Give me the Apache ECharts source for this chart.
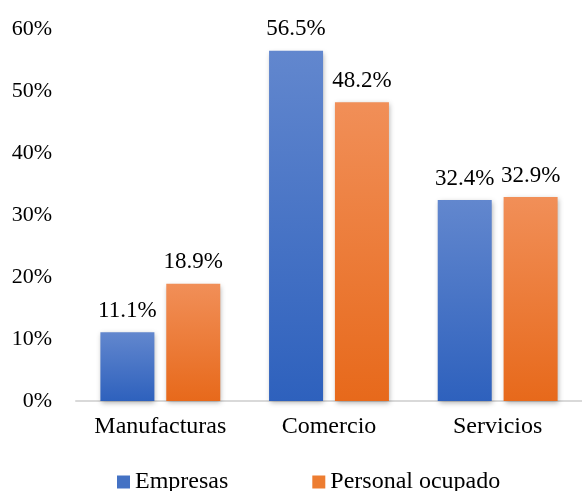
<!DOCTYPE html>
<html><head><meta charset="utf-8">
<script src="https://cdn.jsdelivr.net/npm/echarts@6/dist/echarts.min.js"></script>
<style>html,body{margin:0;padding:0;background:#fff}#c{width:582px;height:491px}</style>
</head><body><div id="c"></div>
<script>
var categories = ['Manufacturas', 'Comercio', 'Servicios'];
var empresas = [11.1, 56.5, 32.4];
var personal = [18.9, 48.2, 32.9];
var yTicks = [0, 10, 20, 30, 40, 50, 60];

var FONT = '"Liberation Serif", "Times New Roman", serif';
function grad(top, bottom) {
  return new echarts.graphic.LinearGradient(0, 0, 0, 1, [{offset: 0, color: top}, {offset: 1, color: bottom}]);
}
var chart = echarts.init(document.getElementById('c'));
chart.setOption({
  animation: false,
  grid: {left: 76, top: 29, width: 510, height: 372, containLabel: false},
  textStyle: {fontFamily: FONT},
  legend: {
    top: 465, left: 112, itemWidth: 13, itemHeight: 13, itemGap: 84,
    textStyle: {fontFamily: FONT, fontSize: 24, color: '#000'},
    data: [
      {name: 'Empresas', icon: 'rect', itemStyle: {color: '#4472C4'}},
      {name: 'Personal ocupado', icon: 'rect', itemStyle: {color: '#ED7D31'}}
    ]
  },
  xAxis: {
    type: 'category', data: categories,
    axisLine: {lineStyle: {color: '#d9d9d9', width: 2}},
    axisTick: {show: false},
    axisLabel: {interval: 0, fontFamily: FONT, fontSize: 24, color: '#000', margin: 14}
  },
  yAxis: {
    type: 'value', min: yTicks[0], max: yTicks[yTicks.length - 1], interval: 10,
    splitLine: {show: false}, axisLine: {show: false}, axisTick: {show: false},
    axisLabel: {fontFamily: FONT, fontSize: 22, color: '#000', margin: 24, formatter: '{value}%'}
  },
  series: [
    {
      name: 'Empresas', type: 'bar', data: empresas, barWidth: 54, barGap: '22%',
      itemStyle: {color: grad('#6287CE', '#2E61BD'), shadowBlur: 5, shadowOffsetX: 1, shadowOffsetY: 2, shadowColor: 'rgba(0,0,0,0.3)'},
      label: {show: true, position: 'top', distance: 10, fontFamily: FONT, fontSize: 23, color: '#000', formatter: function(p){return p.value.toFixed(1) + '%';}}
    },
    {
      name: 'Personal ocupado', type: 'bar', data: personal, barWidth: 54,
      itemStyle: {color: grad('#F18F58', '#E7691B'), shadowBlur: 5, shadowOffsetX: 1, shadowOffsetY: 2, shadowColor: 'rgba(0,0,0,0.3)'},
      label: {show: true, position: 'top', distance: 10, fontFamily: FONT, fontSize: 23, color: '#000', formatter: function(p){return p.value.toFixed(1) + '%';}}
    }
  ]
});
</script></body></html>
